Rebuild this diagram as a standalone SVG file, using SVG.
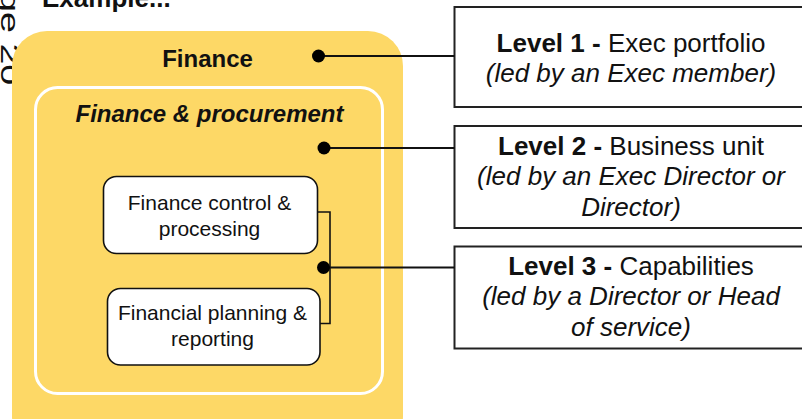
<svg xmlns="http://www.w3.org/2000/svg" width="802" height="419" viewBox="0 0 802 419">
<style>
text{font-family:"Liberation Sans",Arial,sans-serif;fill:#111;}
.lvl{font-size:26px;text-anchor:middle;}
.b{font-weight:bold;}
.i{font-style:italic;}
.cap{font-size:21px;text-anchor:middle;}
.lbox{fill:#fff;stroke:#222;stroke-width:2;}
.cbox{fill:#fff;stroke:#111;stroke-width:1.6;}
.conn{stroke:#111;stroke-width:2.2;fill:none;}
.brk{stroke:#111;stroke-width:1.6;fill:none;}
.dot{fill:#000;}
</style>
<rect width="802" height="419" fill="#fff"/>
<g id="caption">
<text x="42" y="7" font-size="26" class="b">Example...</text>
<text transform="translate(1,0) rotate(90) scale(1.45,1)" x="-6.2" y="0" font-size="26">ge 20</text>
</g>
<g id="finance">
<rect x="12" y="31" width="391" height="420" rx="35" fill="#FDD866"/>
<text x="207.5" y="67" font-size="24" class="b" text-anchor="middle">Finance</text>
</g>
<g id="procurement">
<rect x="35.5" y="87.5" width="347" height="306" rx="22" fill="none" stroke="#fff" stroke-width="3"/>
<text x="209.5" y="122" font-size="24" class="b i" text-anchor="middle">Finance &amp; procurement</text>
</g>
<g id="control">
<rect class="cbox" x="103.5" y="176.5" width="214" height="77" rx="13"/>
<text class="cap" x="209.5" y="209.5">Finance control &amp;</text>
<text class="cap" x="209.5" y="235.5">processing</text>
</g>
<g id="planning">
<rect class="cbox" x="107.5" y="288.5" width="212.5" height="76.5" rx="13"/>
<text class="cap" x="212.5" y="319.5">Financial planning &amp;</text>
<text class="cap" x="212.5" y="345.5">reporting</text>
</g>
<g id="level1">
<rect class="lbox" x="454.5" y="7" width="360" height="100"/>
<text class="lvl" x="631" y="52"><tspan class="b">Level 1 - </tspan>Exec portfolio</text>
<text class="lvl i" x="631" y="82">(led by an Exec member)</text>
</g>
<g id="level2">
<rect class="lbox" x="454.5" y="126" width="360" height="102"/>
<text class="lvl" x="631" y="155"><tspan class="b">Level 2 - </tspan>Business unit</text>
<text class="lvl i" x="631" y="185">(led by an Exec Director or</text>
<text class="lvl i" x="631" y="215.5">Director)</text>
</g>
<g id="level3">
<rect class="lbox" x="454.5" y="246.5" width="360" height="102"/>
<text class="lvl" x="631" y="275"><tspan class="b">Level 3 - </tspan>Capabilities</text>
<text class="lvl i" x="631" y="305">(led by a Director or Head</text>
<text class="lvl i" x="631" y="335.5">of service)</text>
</g>
<g id="connectors">
<path class="conn" d="M318.5 56H454.5"/>
<circle class="dot" cx="318.5" cy="56" r="6.5"/>
<path class="conn" d="M324 148H454.5"/>
<circle class="dot" cx="324" cy="148" r="6.5"/>
<path class="brk" d="M317.5 212H330V323.5H320"/>
<path class="conn" d="M323.5 267.5H454.5"/>
<circle class="dot" cx="323.5" cy="267.5" r="6.5"/>
</g>
</svg>
